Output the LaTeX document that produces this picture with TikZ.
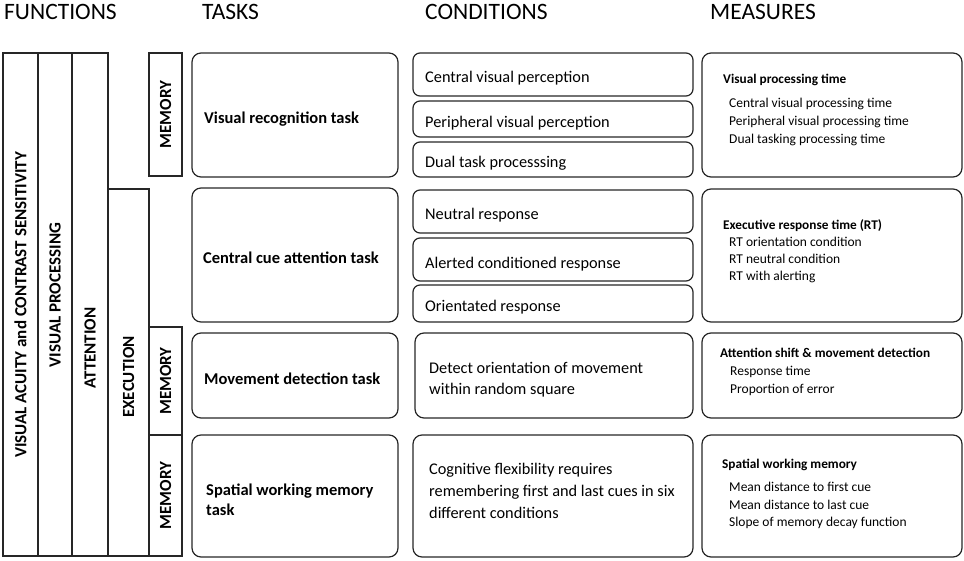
\documentclass[tikz,border=0pt]{standalone}
\usepackage{fontspec}
\setmainfont{Carlito}
\begin{document}
\begin{tikzpicture}[x=1pt,y=-1pt,
  line/.style={draw=black!85, line width=1.2pt},
  sqbox/.style={line, rectangle, inner sep=0},
  rbox/.style={line, rectangle, rounded corners=9pt, inner sep=0},
  cbox/.style={line, rectangle, rounded corners=7pt, inner sep=0},
  hdr/.style={font=\fontsize{23.5}{28}\selectfont, anchor=west, inner sep=0},
  vlab/.style={font=\bfseries\fontsize{17}{20}\selectfont, rotate=90, inner sep=0},
  txt/.style={anchor=west, inner sep=0, text height=1.5ex, text depth=.25ex, yshift=-3.5pt},
  tasktxt/.style={txt, font=\bfseries\fontsize{16.5}{20}\selectfont},
  condtxt/.style={txt, font=\fontsize{16.3}{20}\selectfont},
  meastitle/.style={txt, font=\bfseries\fontsize{13.3}{16}\selectfont},
  measitem/.style={txt, font=\fontsize{13.5}{16}\selectfont}]
\useasboundingbox (0,0) rectangle (964,561);

% headers
\node[hdr] (hF) at (4,11.5) {FUNCTIONS};
\node[hdr] (hT) at (202,11.5) {TASKS};
\node[hdr] (hC) at (425,11.5) {CONDITIONS};
\node[hdr] (hM) at (710,11.5) {MEASURES};

% function columns
\node[sqbox, minimum width=35, minimum height=503] (f1) at (20.5,304.5) {};
\node[sqbox, minimum width=34, minimum height=503] (f2) at (55,304.5) {};
\node[sqbox, minimum width=36, minimum height=503] (f3) at (90,304.5) {};
\node[sqbox, minimum width=41, minimum height=367] (fx) at (128.5,372.5) {};
\node[sqbox, minimum width=33, minimum height=123] (fm1) at (165.5,114.5) {};
\node[sqbox, minimum width=33, minimum height=108] (fm2) at (165.5,381) {};
\node[sqbox, minimum width=33, minimum height=121] (fm3) at (165.5,495.5) {};

\node[vlab] (l1) at (20.5,305) {VISUAL ACUITY and CONTRAST SENSITIVITY};
\node[vlab] (l2) at (55,295) {VISUAL PROCESSING};
\node[vlab] (l3) at (90,348) {ATTENTION};
\node[vlab] (lx) at (128.5,377) {EXECUTION};
\node[vlab] (lm1) at (165.5,114.5) {MEMORY};
\node[vlab] (lm2) at (165.5,381) {MEMORY};
\node[vlab] (lm3) at (165.5,495.5) {MEMORY};

% tasks
\node[rbox, minimum width=206, minimum height=124] (t1) at (295,115) {};
\node[rbox, minimum width=206, minimum height=134] (t2) at (295,255) {};
\node[rbox, minimum width=206, minimum height=85] (t3) at (295,375.5) {};
\node[rbox, minimum width=206, minimum height=122] (t4) at (295,496) {};
\node[tasktxt] (tt1) at (204,117) {Visual recognition task};
\node[tasktxt] (tt2) at (203,257) {Central cue attention task};
\node[tasktxt] (tt3) at (204,378) {Movement detection task};
\node[tasktxt] (tt4a) at (206,489) {Spatial working memory};
\node[tasktxt] (tt4b) at (206,509) {task};

% conditions
\node[cbox, minimum width=280, minimum height=43] (c1) at (553,74.5) {};
\node[cbox, minimum width=280, minimum height=36] (c2) at (553,119) {};
\node[cbox, minimum width=280, minimum height=35] (c3) at (553,159.5) {};
\node[cbox, minimum width=280, minimum height=43] (c4) at (553,211.5) {};
\node[cbox, minimum width=280, minimum height=43] (c5) at (553,259.5) {};
\node[cbox, minimum width=280, minimum height=37] (c6) at (553,303.5) {};
\node[rbox, minimum width=278, minimum height=85] (c7) at (554,375.5) {};
\node[rbox, minimum width=280, minimum height=122] (c8) at (553,496) {};
\node[condtxt] (ct1) at (425,76) {Central visual perception};
\node[condtxt] (ct2) at (425,121) {Peripheral visual perception};
\node[condtxt] (ct3) at (425,161) {Dual task processsing};
\node[condtxt] (ct4) at (425,213) {Neutral response};
\node[condtxt] (ct5) at (425,262) {Alerted conditioned response};
\node[condtxt] (ct6) at (425,305) {Orientated response};
\node[condtxt] (ct7a) at (429,367) {Detect orientation of movement};
\node[condtxt] (ct7b) at (429,388) {within random square};
\node[condtxt] (ct8a) at (429,468) {Cognitive flexibility requires};
\node[condtxt] (ct8b) at (429,490) {remembering first and last cues in six};
\node[condtxt] (ct8c) at (429,512) {different conditions};

% measures
\node[rbox, minimum width=260, minimum height=124] (m1) at (832,115) {};
\node[rbox, minimum width=260, minimum height=133] (m2) at (832,255.5) {};
\node[rbox, minimum width=260, minimum height=85] (m3) at (832,375.5) {};
\node[rbox, minimum width=260, minimum height=122] (m4) at (832,496) {};

\node[meastitle] (mt1) at (723,77) {Visual processing time};
\node[measitem] (mi1a) at (729,101) {Central visual processing time};
\node[measitem] (mi1b) at (729,119) {Peripheral visual processing time};
\node[measitem] (mi1c) at (729,137) {Dual tasking processing time};

\node[meastitle] (mt2) at (723,223) {Executive response time (RT)};
\node[measitem] (mi2a) at (729,240) {RT orientation condition};
\node[measitem] (mi2b) at (729,257) {RT neutral condition};
\node[measitem] (mi2c) at (729,274) {RT with alerting};

\node[meastitle] (mt3) at (720,351) {Attention shift \& movement detection};
\node[measitem] (mi3a) at (730,369) {Response time};
\node[measitem] (mi3b) at (730,387) {Proportion of error};

\node[meastitle] (mt4) at (722,462) {Spatial working memory};
\node[measitem] (mi4a) at (729,485) {Mean distance to first cue};
\node[measitem] (mi4b) at (729,503) {Mean distance to last cue};
\node[measitem] (mi4c) at (729,520) {Slope of memory decay function};
\end{tikzpicture}
\end{document}
